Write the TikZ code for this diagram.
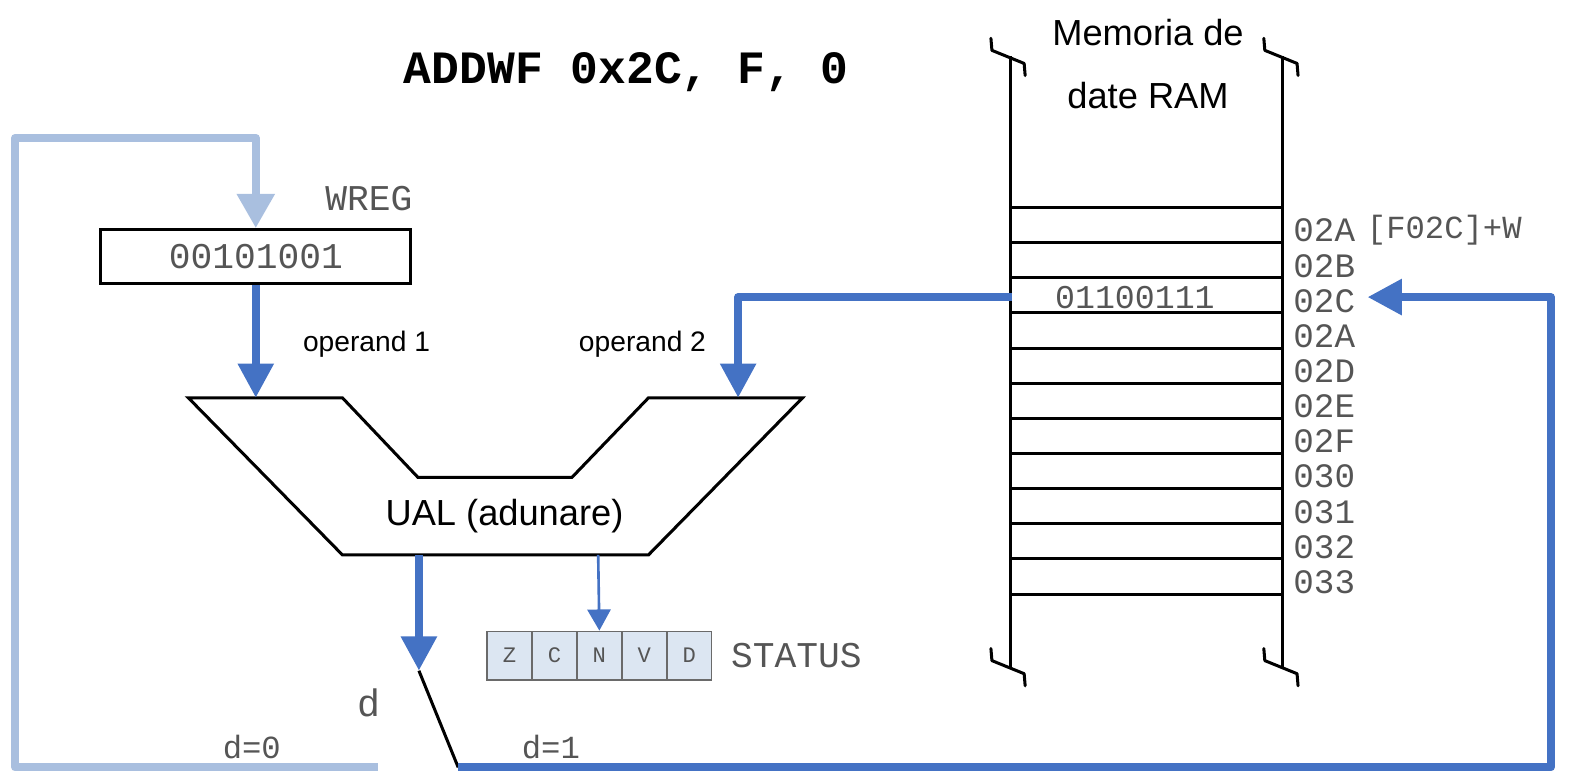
\documentclass[tikz,border=0pt]{standalone}
\usepackage{fontspec}
\setmainfont{Liberation Sans}
\newfontfamily\monofont{Liberation Mono}
\usetikzlibrary{arrows.meta,calc}
\definecolor{wireblue}{HTML}{4472C4}
\definecolor{loopblue}{HTML}{A9BFDF}
\definecolor{flagfill}{HTML}{DCE6F2}
\definecolor{codegray}{HTML}{555555}
\definecolor{flagedge}{HTML}{6A6A6A}

\begin{document}
\begin{tikzpicture}[x=0.5pt,y=-0.5pt,
  bus/.style={line width=4pt, draw=wireblue, line join=round,
    -{Triangle[length=17pt,width=17pt,fill=wireblue]}},
  feedback/.style={line width=4pt, draw=loopblue, line join=round,
    -{Triangle[length=17pt,width=18pt,fill=loopblue]}},
  flagwire/.style={line width=1.3pt, draw=wireblue,
    -{Triangle[length=10.5pt,width=11.5pt,fill=wireblue]}},
  edge/.style={line width=1.5pt, draw=black, line join=miter},
  code/.style={font=\monofont\fontsize{18pt}{20pt}\selectfont, text=codegray, inner sep=0pt},
  addr/.style={font=\monofont\fontsize{17pt}{18pt}\selectfont, text=codegray, anchor=west, inner sep=0pt},
  sans/.style={font=\fontsize{18pt}{20pt}\selectfont, inner sep=0pt},
  small/.style={font=\fontsize{14pt}{16pt}\selectfont, inner sep=0pt},
  regbox/.style={draw=black, line width=1.5pt, minimum width=154pt, minimum height=27pt, inner sep=0pt},
  flagcell/.style={draw=flagedge, line width=0.8pt, fill=flagfill, minimum width=22.3pt,
    minimum height=24pt, inner sep=0pt, text=codegray, font=\monofont\fontsize{11pt}{12pt}\selectfont},
]
\useasboundingbox (0,0) rectangle (1568,767);

% instruction
\node[inner sep=0pt, font=\monofont\bfseries\fontsize{23pt}{25pt}\selectfont] (instr) at (622,72) {ADDWF 0x2C, F, 0};

% working register
\node[regbox, code] (wreg) at (254,255) {00101001};
\node[code, anchor=east] (wregname) at (410,197) {WREG};

% arithmetic-logic unit outline
\coordinate (aluA) at (187,395);
\coordinate (aluB) at (340,395);
\coordinate (aluC) at (415,474);
\coordinate (aluD) at (568,474);
\coordinate (aluE) at (644,395);
\coordinate (aluF) at (797,395);
\coordinate (aluG) at (644,551);
\coordinate (aluH) at (340,551);
\draw[edge] (aluA) -- (aluB) -- (aluC) -- (aluD) -- (aluE) -- (aluF) -- (aluG) -- (aluH) -- cycle;
\node[sans] (alulabel) at (501,513) {UAL (adunare)};
\coordinate (op1in) at (254,395);
\coordinate (op2in) at (733,395);
\coordinate (aluout) at (416,551);
\coordinate (aluflags) at (594,551);

\node[small] (op1label) at (364,342) {operand 1};
\node[small] (op2label) at (638,342) {operand 2};

% data memory
\coordinate (memLT) at (1003,56);
\coordinate (memLB) at (1003,662);
\coordinate (memRT) at (1274,56);
\coordinate (memRB) at (1274,662);
\draw[edge] (memLT) -- (memLB);
\draw[edge] (memRT) -- (memRB);
\foreach \p in {memLT,memLB,memRT,memRB}{
  \draw[line width=1.5pt, line cap=round, line join=round]
    ($(\p)+(-19,-18)$) -- ($(\p)+(-18,-6)$) -- ($(\p)+(14,7)$) -- ($(\p)+(15,19)$);
}
\foreach \k in {0,...,11}{
  \draw[edge] (1003,{206+34.9*\k}) -- (1274,{206+34.9*\k});
}
\foreach \lbl [count=\k from 0] in {02A,02B,02C,02A,02D,02E,02F,030,031,032,033}{
  \node[addr] (addr\k) at (1284,{229+34.9*\k}) {\lbl};
}
\node[sans] (memtitleA) at (1140,32) {Memoria de};
\node[sans] (memtitleB) at (1140,95) {date RAM};
\node[code, font=\monofont\fontsize{16.5pt}{18pt}\selectfont] (cell) at (1127,295) {01100111};
\coordinate (memout) at (1005,295);
\coordinate (addrin) at (1358,295);
\node[addr, font=\monofont\fontsize{16pt}{18pt}\selectfont] (result) at (1357,229) {[F02C]+W};

% status register
\foreach \f [count=\i from 0] in {Z,C,N,V,D}{
  \node[flagcell] (flag\f) at ({506+44.6*\i},651) {\f};
}
\node[code, anchor=west] (statusname) at ($(flagD.east)+(18,0)$) {STATUS};

% destination switch
\coordinate (swtop) at (416,666);
\coordinate (swone) at (455,762);
\coordinate (loopend) at (375,762);
\node[code, font=\monofont\fontsize{19pt}{20pt}\selectfont] (dname) at (366,698) {d};
\node[code, font=\monofont\fontsize{16pt}{18pt}\selectfont] (dzero) at (250,742) {d=0};
\node[code, font=\monofont\fontsize{16pt}{18pt}\selectfont] (done) at (547,742) {d=1};

% connections
\draw[feedback] (loopend) -- (15,762) -- (15,137) -- (254,137) -- (wreg.north);
\draw[bus] (wreg.south) -- (op1in);
\draw[bus] (memout) -- (op2in |- memout) -- (op2in);
\draw[bus] (aluout) -- (swtop);
\draw[flagwire] (aluflags) -- (flagN.north);
\draw[edge] (swtop) -- (swone);
\draw[bus] (swone) -- (1540,762) -- (1540,295) -- (addrin);
\end{tikzpicture}
\end{document}
